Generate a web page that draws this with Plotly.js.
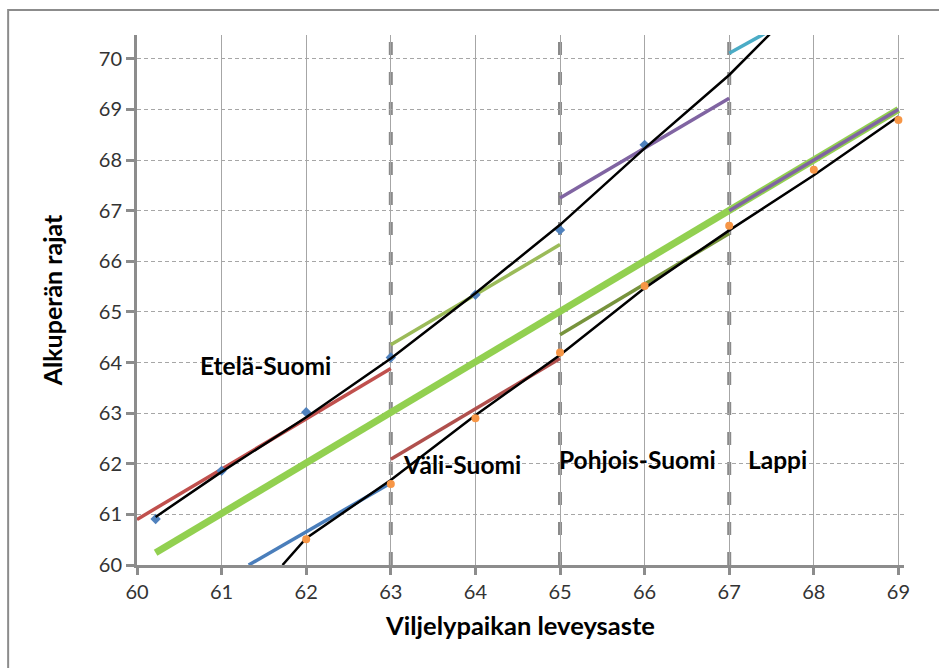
<!DOCTYPE html>
<html>
<head>
<meta charset="utf-8">
<script src="https://cdn.plot.ly/plotly-3.0.1.min.js"></script>
<style>
  html, body { margin: 0; padding: 0; background: #fff; }
  #chart { width: 939px; height: 668px; }
</style>
</head>
<body>
<div id="chart"></div>
<script>
// Havaitut pisteet: eteläiset (siniset) ja pohjoiset (oranssit) aineistot
const blueX = [60.22, 61, 62, 63, 64, 65, 66];
const blueY = [60.91, 61.86, 63.02, 64.10, 65.34, 66.62, 68.30];
const orangeX = [62, 63, 64, 65, 66, 67, 68, 69];
const orangeY = [60.51, 61.60, 62.90, 64.20, 65.51, 66.70, 67.81, 68.79];

// Trendiviivat (mustat)
const trendBlueX = [60.22, 61, 62, 63, 64, 65, 66, 67, 67.5];
const trendBlueY = [60.95, 61.84, 62.92, 64.08, 65.37, 66.72, 68.23, 69.68, 70.52];
const trendOrangeX = [61.72, 62, 63, 64, 65, 66, 67, 68, 69];
const trendOrangeY = [60.00, 60.53, 61.68, 62.96, 64.15, 65.47, 66.61, 67.70, 68.86];

// Vertailusuora 1:1
const refX = [60.22, 69];
const refY = [60.24, 69];

// Alueittaiset rajasegmentit
const etelaX = [60, 63];          const etelaY = [60.90, 63.88];
const etelaAlaX = [61.32, 63];    const etelaAlaY = [60.00, 61.62];
const valiAlaX = [63, 65];        const valiAlaY = [62.09, 64.08];
const valiYlaX = [63, 65];        const valiYlaY = [64.35, 66.33];
const pohjoisYlaX = [65, 67];     const pohjoisYlaY = [67.25, 69.22];
const pohjoisAlaX = [65, 67];     const pohjoisAlaY = [64.55, 66.55];
const lappiYlaX = [67, 67.42];    const lappiYlaY = [70.11, 70.50];
const lappiX = [67, 69];          const lappiY = [67.00, 69.00];

// Alueiden rajat ja nimet
const boundaries = [63, 65, 67];
const regionNames = ['Etelä-Suomi', 'Väli-Suomi', 'Pohjois-Suomi', 'Lappi'];
const regionLabelX = [61.52, 63.84, 65.91, 67.57];
const regionLabelY = [63.95, 61.98, 62.08, 62.08];

const xTicks = [60, 61, 62, 63, 64, 65, 66, 67, 68, 69];
const yTicks = [60, 61, 62, 63, 64, 65, 66, 67, 68, 69, 70];

const FONT = 'Lato, "Open Sans", sans-serif';
const AXIS_GREY = '#8c8c8c';

function seg(x, y, color, width) {
  return { x: x, y: y, type: 'scatter', mode: 'lines', hoverinfo: 'skip',
           line: { color: color, width: width }, showlegend: false };
}

const traces = [
  seg(refX, refY, '#92D050', 7),
  seg(etelaX, etelaY, '#C0504D', 3.5),
  seg(etelaAlaX, etelaAlaY, '#4A7EBB', 3.5),
  seg(valiAlaX, valiAlaY, '#B0504D', 3.5),
  seg(valiYlaX, valiYlaY, '#9BBB59', 3.5),
  seg(pohjoisYlaX, pohjoisYlaY, '#8064A2', 3.5),
  seg(pohjoisAlaX, pohjoisAlaY, '#77933C', 3.5),
  seg(lappiYlaX, lappiYlaY, '#4BACC6', 3.5),
  seg(lappiX, lappiY, '#8064A2', 3.5),
  { x: blueX, y: blueY, type: 'scatter', mode: 'markers', showlegend: false,
    marker: { symbol: 'diamond', size: 8, color: '#4F81BD' } },
  seg(trendBlueX, trendBlueY, '#000000', 2.5),
  seg(trendOrangeX, trendOrangeY, '#000000', 2.5),
  { x: orangeX, y: orangeY, type: 'scatter', mode: 'markers', showlegend: false,
    marker: { symbol: 'circle', size: 8, color: '#F79646' } }
];

const shapes = boundaries.map(b => ({
  type: 'line', xref: 'x', yref: 'paper', x0: b, x1: b, y0: 0, y1: 1,
  line: { color: '#8a8a8a', width: 4, dash: '13px,17px' }, layer: 'below'
}));
// Kaavion kehys: vasen ja ylä reuna
shapes.push({
  type: 'path', xref: 'paper', yref: 'paper',
  path: 'M -0.168 -0.4 L -0.168 1.047 L 1.3 1.047',
  line: { color: '#8c8c8c', width: 2 }, layer: 'below'
});

const annotations = regionNames.map((t, i) => ({
  x: regionLabelX[i], y: regionLabelY[i], xref: 'x', yref: 'y',
  text: '<b>' + t + '</b>', showarrow: false,
  xanchor: 'center', yanchor: 'middle',
  font: { family: FONT, size: 24.5, color: '#000' }
}));

const layout = {
  width: 939, height: 668,
  margin: { l: 137, r: 35, t: 35, b: 103 },
  paper_bgcolor: '#ffffff', plot_bgcolor: '#ffffff',
  showlegend: false,
  font: { family: FONT, size: 20, color: '#333' },
  xaxis: {
    range: [60, 69.066], tickvals: xTicks, ticktext: xTicks.map(String),
    showgrid: true, gridcolor: '#a6a6a6', gridwidth: 1,
    zeroline: false, showline: true, linecolor: AXIS_GREY, linewidth: 3,
    ticks: 'outside', ticklen: 7, tickwidth: 3, tickcolor: AXIS_GREY,
    tickfont: { family: FONT, size: 20, color: '#333' },
    title: { text: '<b>Viljelypaikan leveysaste</b>', standoff: 16,
             font: { family: FONT, size: 25.5, color: '#000' } }
  },
  yaxis: {
    range: [60, 70.47], tickvals: yTicks, ticktext: yTicks.map(String),
    showgrid: true, gridcolor: '#a6a6a6', gridwidth: 1, griddash: '4px,3px',
    zeroline: false, showline: true, linecolor: AXIS_GREY, linewidth: 3,
    ticks: 'outside', ticklen: 8, tickwidth: 3, tickcolor: AXIS_GREY,
    tickfont: { family: FONT, size: 20, color: '#333' },
    title: { text: '<b>Alkuperän rajat</b>', standoff: 30,
             font: { family: FONT, size: 25, color: '#000' } }
  },
  xaxis2: {
    overlaying: 'x', anchor: 'y', range: [60, 69.066], tickvals: xTicks,
    showticklabels: false, showgrid: false, zeroline: false, showline: false,
    ticks: 'inside', ticklen: 6, tickwidth: 3, tickcolor: AXIS_GREY
  },
  yaxis2: {
    overlaying: 'y', anchor: 'x', range: [60, 70.47], tickvals: yTicks,
    showticklabels: false, showgrid: false, zeroline: false, showline: false,
    ticks: 'inside', ticklen: 6, tickwidth: 3, tickcolor: AXIS_GREY
  },
  shapes: shapes,
  annotations: annotations
};

Plotly.newPlot('chart', traces, layout, { staticPlot: true, displayModeBar: false });
</script>
</body>
</html>
